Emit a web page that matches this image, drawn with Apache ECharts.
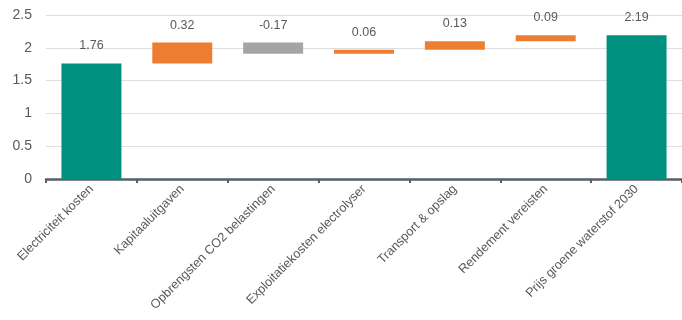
<!DOCTYPE html>
<html><head><meta charset="utf-8">
<script src="https://cdn.jsdelivr.net/npm/echarts@6/dist/echarts.min.js"></script>
<style>html,body{margin:0;padding:0;background:#fff}#c{width:682px;height:320px}</style>
</head><body><div id="c"></div>
<script>
const categories = ["Electriciteit kosten","Kapitaaluitgaven","Opbrengsten CO2 belastingen","Exploitatiekosten electrolyser","Transport & opslag","Rendement vereisten","Prijs groene waterstof 2030"];
const values = [1.76, 0.32, -0.17, 0.06, 0.13, 0.09, 2.19];
const kinds = ["total","delta","delta","delta","delta","delta","total"];
const yTicks = [0, 0.5, 1, 1.5, 2, 2.5];

const TEAL = "#00907f", ORANGE = "#ed7d31", GRAY = "#a5a5a5";
let run = 0;
const base = [], height = [];
values.forEach((v, i) => {
  if (kinds[i] === "total") { base.push(0); height.push(v); run = v; }
  else {
    const nr = run + v;
    base.push(+Math.min(run, nr).toFixed(4));
    height.push(+Math.abs(v).toFixed(4));
    run = nr;
  }
});
const visData = height.map((h, i) => ({
  value: h,
  itemStyle: { color: kinds[i] === "total" ? TEAL : (values[i] < 0 ? GRAY : ORANGE) },
  label: { formatter: values[i].toFixed(2) }
}));

const chart = echarts.init(document.getElementById('c'));
chart.setOption({
  animation: false,
  textStyle: { fontFamily: "Liberation Sans, Arial, sans-serif" },
  grid: { left: 46, top: 15, width: 642, bottom: 141, containLabel: false },
  xAxis: {
    type: 'category', data: categories,
    axisLine: { lineStyle: { color: '#56606a', width: 2.5 } },
    axisTick: { show: true, length: 4, lineStyle: { color: '#56606a', width: 2 } },
    axisLabel: { rotate: 45, interval: 0, color: '#595959', fontSize: 12.6, margin: 8 }
  },
  yAxis: {
    type: 'value', min: yTicks[0], max: yTicks[yTicks.length - 1], interval: 0.5,
    axisLine: { show: false }, axisTick: { show: false },
    axisLabel: { color: '#595959', fontSize: 14, margin: 14 },
    splitLine: { lineStyle: { color: '#dedede', width: 1 } }
  },
  series: [
    { type: 'bar', stack: 'w', data: base, itemStyle: { color: 'transparent' }, barWidth: '66%', silent: true },
    { type: 'bar', stack: 'w', data: visData, barWidth: '66%',
      label: { show: true, position: 'top', distance: 11, color: '#595959', fontSize: 12.5 } }
  ]
});
</script></body></html>
